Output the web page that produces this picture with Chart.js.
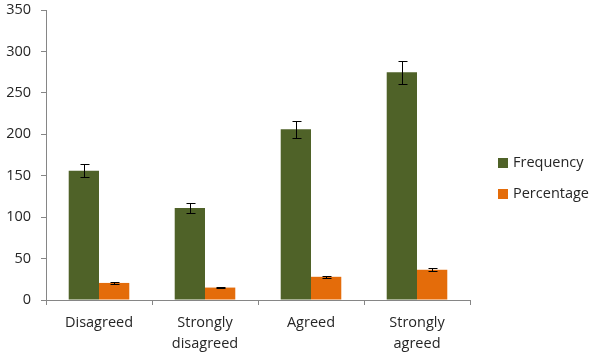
<!DOCTYPE html>
<html>
<head>
<meta charset="utf-8">
<script src="https://cdn.jsdelivr.net/npm/chart.js@4.4.1/dist/chart.umd.min.js"></script>
<style>
html,body{margin:0;padding:0;background:#fff;}
#wrap{width:597px;height:357px;position:relative;}
</style>
</head>
<body>
<div id="wrap"><canvas id="c" width="597" height="357"></canvas></div>
<script>
const categories = [["Disagreed"], ["Strongly", "disagreed"], ["Agreed"], ["Strongly", "agreed"]];
const frequency = [156, 111, 206, 275];
const frequencyErr = [8, 5.5, 10, 14];
const percentage = [20.6, 15, 28, 36.5];
const percentageErr = [1, 1, 1.5, 2];
const yTicks = [0, 50, 100, 150, 200, 250, 300, 350];
const seriesNames = ["Frequency", "Percentage"];
const seriesColors = ["#4F6228", "#E46C0A"];
const errors = [frequencyErr, percentageErr];

const FONT = "'Open Sans', sans-serif";

const errorBarPlugin = {
  id: 'errorBars',
  afterDatasetsDraw(chart) {
    const ctx = chart.ctx;
    const y = chart.scales.y;
    ctx.save();
    ctx.strokeStyle = '#000';
    ctx.lineWidth = 1;
    chart.data.datasets.forEach((ds, di) => {
      const meta = chart.getDatasetMeta(di);
      meta.data.forEach((bar, i) => {
        const v = ds.data[i], e = errors[di][i];
        const x = Math.round(bar.x) + 0.5;
        const yt = Math.round(y.getPixelForValue(v + e)) + 0.5;
        const yb = Math.round(y.getPixelForValue(v - e)) + 0.5;
        ctx.beginPath();
        ctx.moveTo(x, yt); ctx.lineTo(x, yb);
        ctx.moveTo(x - 4, yt); ctx.lineTo(x + 5, yt);
        ctx.moveTo(x - 4, yb); ctx.lineTo(x + 5, yb);
        ctx.stroke();
      });
    });
    ctx.restore();
  }
};

const legendPlugin = {
  id: 'customLegend',
  afterDraw(chart) {
    const ctx = chart.ctx;
    ctx.save();
    ctx.font = "14.5px " + FONT;
    ctx.textBaseline = 'middle';
    ctx.textAlign = 'left';
    const ys = [163, 194];
    chart.data.datasets.forEach((ds, i) => {
      ctx.fillStyle = ds.backgroundColor;
      ctx.fillRect(498, ys[i] - 5, 10, 10);
      ctx.fillStyle = '#262626';
      ctx.fillText(ds.label, 513, ys[i]);
    });
    ctx.restore();
  }
};

new Chart(document.getElementById('c'), {
  type: 'bar',
  data: {
    labels: categories,
    datasets: seriesNames.map((n, i) => ({
      label: n,
      data: i === 0 ? frequency : percentage,
      backgroundColor: seriesColors[i],
      categoryPercentage: 2 / 3.5,
      barPercentage: 1.0
    }))
  },
  options: {
    responsive: false,
    animation: false,
    devicePixelRatio: 1,
    layout: { padding: { left: 0, right: 127, top: 10, bottom: 0 } },
    plugins: { legend: { display: false }, tooltip: { enabled: false } },
    scales: {
      x: {
        afterFit(scale) { scale.height = 57; scale.paddingTop = 0; scale.paddingBottom = 0; },
        grid: { display: true, drawOnChartArea: false, offset: true, tickLength: 5, color: '#868686' },
        border: { color: '#868686' },
        ticks: { color: '#262626', font: { family: FONT, size: 14.5, lineHeight: 1.45 }, padding: 7, maxRotation: 0 }
      },
      y: {
        min: 0, max: 350,
        afterFit(scale) { scale.width = 46; scale.paddingTop = 0; scale.paddingBottom = 0; },
        afterBuildTicks(scale) { scale.ticks = yTicks.map(v => ({ value: v })); },
        grid: { display: true, drawOnChartArea: false, tickLength: 5, color: '#868686' },
        border: { color: '#868686' },
        ticks: { color: '#262626', font: { family: FONT, size: 14.5 }, padding: 10 }
      }
    }
  },
  plugins: [errorBarPlugin, legendPlugin]
});
</script>
</body>
</html>
